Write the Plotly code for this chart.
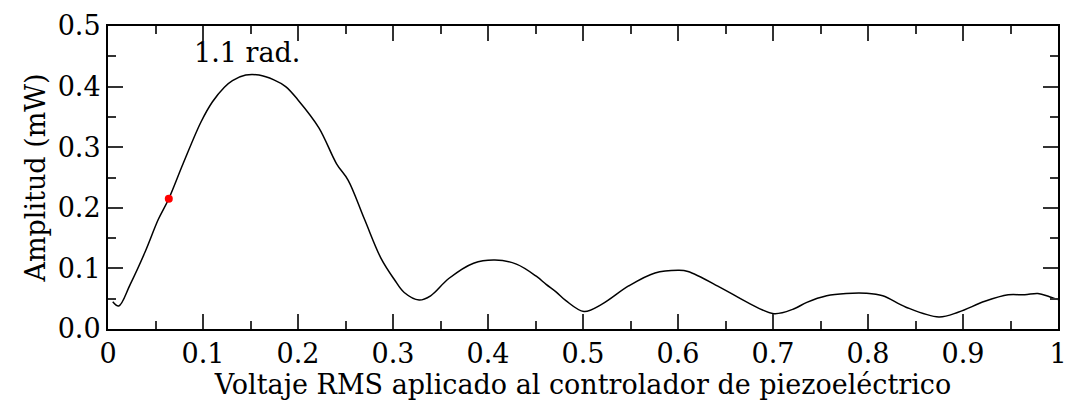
import plotly.graph_objects as go

# Data
voltage = [0.005, 0.0113, 0.0234, 0.039, 0.053, 0.064, 0.079, 0.098, 0.110, 0.1225, 0.131, 0.145, 0.159,
           0.1746, 0.187, 0.200, 0.222, 0.2406, 0.2527, 0.270, 0.2874, 0.3014, 0.3118, 0.3275, 0.3396,
           0.3587, 0.3848, 0.4073, 0.4299, 0.4508, 0.4612, 0.4716, 0.482, 0.501, 0.520, 0.548, 0.5758,
           0.600, 0.6105, 0.6453, 0.673, 0.701, 0.7217, 0.7356, 0.7565, 0.777, 0.798, 0.8155, 0.840,
           0.8746, 0.8955, 0.923, 0.9476, 0.965, 0.9788, 0.991, 0.9997]
amplitude = [0.045, 0.038, 0.0737, 0.127, 0.181, 0.215, 0.2726, 0.342, 0.375, 0.399, 0.410, 0.419, 0.419,
             0.411, 0.400, 0.378, 0.332, 0.2726, 0.2457, 0.181, 0.1166, 0.0817, 0.0602, 0.0478, 0.0548,
             0.0833, 0.1086, 0.114, 0.107, 0.0871, 0.0737, 0.0613, 0.0468, 0.029, 0.041, 0.071, 0.0925,
             0.0968, 0.095, 0.068, 0.044, 0.0253, 0.033, 0.044, 0.0548, 0.0586, 0.059, 0.0548, 0.036,
             0.0199, 0.028, 0.0457, 0.0564, 0.0564, 0.0586, 0.0532, 0.0484]
marker_x = [0.064]
marker_y = [0.215]
annot_text = "1.1 rad."
annot_x, annot_y = 0.1464, 0.457

FONT = "DejaVu Serif"
FS = 27

fig = go.Figure()
fig.add_trace(go.Scatter(x=voltage, y=amplitude, mode="lines",
                         line=dict(color="black", width=1.5, shape="spline", smoothing=1.0),
                         showlegend=False, hoverinfo="skip"))
fig.add_trace(go.Scatter(x=marker_x, y=marker_y, mode="markers",
                         marker=dict(color="red", size=8), showlegend=False))
fig.add_annotation(x=annot_x, y=annot_y, text=annot_text, showarrow=False,
                   font=dict(family=FONT, size=FS, color="black"))

axis_common = dict(showgrid=False, zeroline=False, showline=True, linecolor="black", linewidth=2,
                   ticks="inside", mirror="ticks", ticklen=15, tickwidth=2, tickcolor="#333",
                   tickfont=dict(family=FONT, size=FS, color="black"))
fig.update_xaxes(range=[0, 1],
                 tickvals=[0, 0.1, 0.2, 0.3, 0.4, 0.5, 0.6, 0.7, 0.8, 0.9, 1],
                 ticktext=["0", "0.1", "0.2", "0.3", "0.4", "0.5", "0.6", "0.7", "0.8", "0.9", "1"],
                 minor=dict(ticks="inside", dtick=0.05, tick0=0, ticklen=8, tickwidth=2, tickcolor="#333"),
                 title=dict(text="Voltaje RMS aplicado al controlador de piezoeléctrico",
                            font=dict(family=FONT, size=FS, color="black"), standoff=0),
                 **axis_common)
fig.update_yaxes(range=[0, 0.5], dtick=0.1, tick0=0, tickformat=".1f",
                 minor=dict(ticks="inside", dtick=0.05, tick0=0, ticklen=8, tickwidth=2, tickcolor="#333"),
                 title=dict(text="Amplitud (mW)", font=dict(family=FONT, size=FS, color="black"), standoff=4),
                 **axis_common)
fig.update_layout(width=1077, height=408, margin=dict(l=108, r=10, t=19, b=79),
                  plot_bgcolor="white", paper_bgcolor="white",
                  font=dict(family=FONT, size=FS, color="black"))
fig.write_html("out.html")
